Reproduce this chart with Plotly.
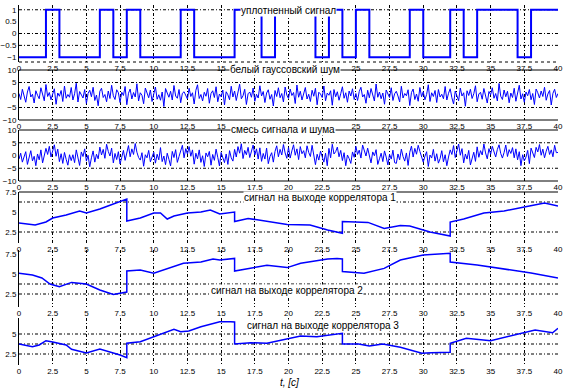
import plotly.graph_objects as go
import numpy as np

# ---------------- data ----------------
bit_times = list(range(41))
bits = [-1, -1, 1, -1, -1, -1, 1, -1, 1, -1,
        -1, -1, 1, -1, -1, -1, 1, 1, -1, 1,
        1, 1, -1, 1, -1, 1, -1, -1, -1, 1,
        -1, -1, 1, -1, 1, 1, 1, -1, 1, 1]

# white gaussian noise, 8 samples per second (one row per second)
noise = [
 0.6, -1.8, 2.3, -0.4, -2.9, 1.2, 3.4, -0.8,
 0.3, -3.2, 1.7, -0.1, -1.5, 2.9, 0.5, -2.3,
 4.2, -0.6, 1.0, -1.9, 0.4, 2.5, -3.7, 0.8,
 -0.5, 1.8, -2.6, 3.6, -1.3, 0.2, -0.9, 3.0,
 -2.0, 0.5, 4.7, -2.8, 1.4, -0.2, -1.2, 2.2,
 -3.4, 0.6, 1.9, -0.7, 3.1, -2.2, 0.0, -4.3,
 1.5, 2.7, -1.0, 0.2, -2.7, 1.6, -1.4, 3.9,
 -0.3, -1.8, 2.1, 0.9, -3.0, 1.1, -0.2, 3.4,
 -3.9, 0.7, 2.4, -1.6, 1.0, -0.8, 4.5, -2.4,
 0.9, -0.1, -3.5, 2.8, 0.3, -1.1, 2.0, -2.6,
 0.4, 3.2, -1.7, 0.1, -2.1, 1.2, -4.6, 2.6,
 0.8, -0.9, 1.5, -2.0, 3.8, -0.4, -1.3, 2.2,
 -3.1, 0.7, 1.3, -0.2, -1.6, 2.7, -0.6, 0.9,
 -3.6, 1.9, 4.1, -1.4, 0.2, -2.4, 1.1, -0.5,
 2.6, -3.3, 0.6, 1.7, -1.0, 3.3, -2.7, 0.4,
 -0.7, 2.0, -4.0, 1.3, 0.1, -1.9, 3.5, -0.8,
 1.6, -2.2, 0.9, 4.3, -1.5, -0.3, 2.3, -3.8,
 0.5, 1.2, -0.9, 2.8, -2.5, 0.3, -1.2, 3.7,
 -0.4, 1.4, -3.0, 0.8, 2.1, -1.7, 0.2, -4.4,
 1.8, -0.6, 2.9, -1.1, 0.6, -2.8, 3.2, 0.0,
 -1.4, 2.4, -0.2, 1.0, -3.4, 4.0, -0.9, 1.5,
 -2.0, 0.7, 3.0, -1.6, 0.3, -2.6, 1.9, -0.5,
 2.7, -3.9, 1.1, 0.4, -1.0, 3.6, -2.3, 0.8,
 -0.1, 1.7, -4.1, 2.2, -0.7, 1.3, -2.1, 0.5,
 3.3, -1.3, 0.9, -2.9, 1.6, -0.4, 2.5, -1.8,
 0.6, -2.2, 1.4, 3.1, -0.8, 0.2, -3.3, 1.9,
 -1.1, 2.6, -0.5, -2.4, 4.4, -0.9, 1.2, -1.5,
 0.8, -3.7, 2.0, 0.1, -1.0, 2.9, -2.2, 0.5,
 1.5, -0.4, -2.8, 3.5, -1.2, 0.6, -0.3, 2.1,
 -4.2, 1.0, 2.4, -1.8, 0.4, -2.5, 3.0, -0.7,
 1.3, -1.9, 0.2, 4.1, -2.6, 0.9, -0.6, 1.8,
 -3.0, 2.2, -0.8, 0.3, -1.5, 3.4, -2.0, 0.7,
 2.5, -1.1, -3.6, 1.6, 0.0, -2.3, 2.8, -0.4,
 0.9, -4.5, 1.7, -0.2, 2.3, -1.4, 0.5, 3.7,
 -2.7, 0.4, 1.1, -1.7, 2.6, -0.9, -3.2, 1.4,
 0.1, 2.9, -1.3, 0.6, -2.4, 4.6, -0.5, -1.8,
 2.0, -0.7, 1.5, -3.1, 0.8, -1.0, 2.7, -2.5,
 0.3, 3.9, -1.6, 0.5, -2.9, 1.2, -0.3, 2.2,
 -1.9, 0.6, -3.8, 2.4, 0.9, -1.2, 1.6, -0.6,
 3.1, -2.1, 0.4, 1.8, -4.0, 0.7, 2.3, -1.0,
 0.6]

# signal + noise mixture, same sampling
mix = [
 -1.4, 0.9, -2.6, -0.2, 1.5, -3.5, -0.8, 1.9,
 -2.1, -0.3, -4.0, 0.6, -1.7, 2.2, -2.9, -0.5,
 2.8, 0.4, 3.6, -0.6, 1.9, 4.2, -0.3, 2.5,
 -2.4, 0.7, -3.1, 1.2, -1.5, -3.8, 0.3, -2.0,
 0.3, -2.8, 2.2, -1.0, -3.9, 1.4, -0.4, 2.6,
 -2.2, 0.1, -4.4, -0.9, 1.8, -2.6, 0.5, -1.3,
 3.3, 0.2, 2.4, -1.1, 4.4, 1.6, -0.2, 2.9,
 -2.9, 0.8, -1.6, 1.5, -3.3, -0.7, 2.0, -1.9,
 1.0, 3.9, -0.5, 2.6, 0.4, 4.7, 1.3, -0.8,
 -1.8, 1.1, -4.2, 0.3, -0.9, 2.0, -2.5, -0.6,
 1.3, -3.0, 0.5, -1.7, 3.1, -2.4, -0.2, -3.6,
 0.9, -1.5, -4.1, 1.6, -0.8, 2.3, -2.7, -0.4,
 1.8, 4.0, -0.9, 2.7, 0.6, 3.5, -0.3, 2.2,
 -3.4, 0.9, -1.3, 2.2, -2.7, -0.1, -4.3, 1.0,
 -0.5, 1.6, -3.8, 0.4, -1.9, 2.5, -0.7, -4.1,
 1.2, -1.1, -2.8, 0.6, -3.5, 1.9, -0.9, -2.2,
 2.4, -0.6, 3.5, 0.9, 4.6, -1.2, 2.0, 0.3,
 3.2, -0.8, 1.7, 4.1, 0.2, 2.6, -1.4, 3.0,
 -2.3, 0.8, -1.4, 2.9, -3.2, -0.4, 1.1, -2.6,
 1.6, 3.8, -0.5, 2.4, 0.2, 4.3, 1.0, -1.1,
 3.1, -1.0, 1.8, 4.2, 0.1, 2.6, -1.6, 3.5,
 0.7, 1.9, -0.9, 3.8, 1.2, -0.4, 4.0, 0.5,
 -3.6, 0.5, -1.8, 1.7, -0.3, -2.6, 0.9, -4.0,
 2.8, -0.9, 4.4, 0.6, 1.5, 3.3, -0.5, 2.0,
 -2.0, 1.1, -4.0, 0.2, -1.2, -3.1, 1.4, -0.7,
 3.6, 0.4, 2.1, -1.0, 4.1, 1.7, -0.2, 2.9,
 -0.8, -2.9, 1.4, -0.1, 2.3, -3.5, -1.3, 0.9,
 -2.4, 1.8, -0.6, -3.7, 0.5, -1.4, 2.1, -2.8,
 -3.1, 0.6, -1.7, 2.5, -0.4, -2.2, 1.0, -3.9,
 1.3, 3.7, -0.6, 2.8, 0.5, 4.0, 1.6, -0.9,
 -2.6, -0.3, 1.5, -4.3, 0.2, -1.0, 2.4, -2.2,
 0.7, -3.0, -1.2, 1.9, -2.5, 0.3, -4.0, -0.6,
 2.2, 0.4, 3.9, -0.8, 1.6, 4.5, 0.1, 2.7,
 -2.9, 0.6, -1.4, 2.0, -3.7, -0.5, 1.3, -2.3,
 3.4, -0.7, 1.9, 0.2, 4.5, 1.0, -1.3, 2.7,
 0.5, 3.6, 1.2, -0.6, 2.4, 4.2, 0.8, -1.0,
 1.2, 4.1, -0.4, 2.3, 0.8, 3.1, -0.9, 2.6,
 -1.7, 1.5, -4.0, 0.3, -2.1, -0.6, 2.0, -3.2,
 2.9, 0.6, -0.8, 3.2, 1.4, 4.3, 0.1, 2.5,
 -0.9, 1.7, 3.6, 0.4, 2.2, -0.5, 4.0, 1.1,
 1.2]

sample_times = np.linspace(0, 40, len(noise))

corr1_t = [0, 0.8, 1.2, 2.0, 2.5, 3.5, 4.5, 5.0, 6.0, 7.0,
           8.0, 8.0, 9.0, 10.0, 10.5, 11.0, 11.5, 12.5, 13.5, 14.2,
           14.9, 16.0, 16.0, 17.0, 18.4, 19.9, 21.6, 22.9, 24.0, 24.0,
           25.9, 27.1, 28.3, 29.0, 30.5, 32.0, 32.0, 33.0, 34.5, 36.0,
           37.5, 39.0, 40.0]
corr1_v = [3.625, 3.5, 3.375, 3.75, 4.25, 4.625, 5.125, 4.875, 5.375, 6.0,
           6.625, 3.875, 4.25, 4.875, 4.875, 4.125, 4.5, 4.875, 5.0, 5.25,
           4.75, 5.0, 3.8, 4.2, 3.8, 3.45, 3.375, 2.75, 2.35, 3.8,
           3.7, 2.95, 3.3, 3.25, 2.5, 2.0, 3.75, 4.125, 4.875, 5.125,
           5.625, 6.125, 5.75]

corr2_t = [0, 1.0, 1.7, 2.3, 3.0, 3.9, 5.0, 6.0, 7.0, 8.0,
           8.0, 9.0, 10.0, 11.0, 12.2, 13.5, 14.4, 14.9, 16.0, 16.0,
           17.2, 18.4, 19.9, 20.9, 22.9, 23.6, 24.0, 24.0, 25.6, 27.1,
           28.3, 30.0, 32.0, 32.0, 34.0, 36.0, 38.0, 40.0]
corr2_v = [5.1, 4.875, 4.5, 3.75, 3.4, 3.95, 3.75, 3.0, 2.45, 2.75,
           5.375, 5.5, 5.1, 5.7, 6.35, 6.5, 6.875, 6.75, 6.95, 5.375,
           5.7, 6.1, 5.8, 6.35, 6.875, 6.95, 6.875, 5.3, 5.1, 5.7,
           6.75, 7.375, 7.6, 6.5, 6.125, 5.625, 5.125, 4.5]

corr3_t = [0, 1.0, 1.5, 2.0, 2.5, 3.5, 3.9, 5.0, 6.0, 6.8,
           7.5, 8.0, 8.0, 9.0, 10.0, 11.0, 11.5, 12.0, 12.6, 13.5,
           14.9, 15.7, 16.0, 16.0, 17.2, 18.4, 19.6, 20.9, 22.1, 24.0,
           24.0, 25.2, 26.0, 27.0, 28.3, 29.3, 29.9, 30.6, 32.0, 32.0,
           33.2, 35.0, 36.3, 37.5, 38.3, 39.6, 40.0]
corr3_v = [3.75, 3.41, 3.625, 4.16, 4.0, 3.625, 3.09, 2.625, 3.125, 2.75,
           2.375, 2.04, 3.84, 4.04, 4.66, 5.29, 5.59, 5.29, 5.375, 5.9,
           6.54, 6.54, 6.5, 3.75, 3.91, 3.84, 4.25, 4.75, 4.66, 5.09,
           3.75, 3.75, 3.5, 3.75, 3.34, 2.91, 2.59, 2.66, 2.71, 3.84,
           4.46, 4.16, 4.66, 5.16, 5.5, 5.16, 5.71]

titles = ["уплотненный сигнал", "белый гауссовский шум", "смесь сигнала и шума",
          "сигнал на выходе коррелятора 1", "сигнал на выходе коррелятора 2",
          "сигнал на выходе коррелятора 3"]
x_label = "t, [c]"

# ---------------- layout helpers ----------------
W, H = 571, 388
L, R = 19, 13
PW = W - L - R

def ydom(top, bottom):
    return [1 - bottom / H, 1 - top / H]

def px(x):
    return (x - L) / PW

def py(y):
    return 1 - y / H

panels = [
    dict(top=5, bottom=62, rng=[-1.2, 1.2], tv=[-1, -0.5, 0, 0.5, 1], grid=[1, 0, -0.5],
         topline=None, botline="dot"),
    dict(top=70, bottom=120, rng=[-10, 10], tv=[-10, -5, 0, 5, 10], grid=[-5, 5],
         topline="solid", botline="solid"),
    dict(top=130, bottom=181, rng=[-10, 10], tv=[-10, -5, 0, 5, 10], grid=[-5, 5],
         topline="solid", botline="solid"),
    dict(top=192, bottom=243, rng=[1.125, 7.5], tv=[2.5, 5, 7.5], grid=[2.5, 6.25],
         topline="solid", botline=None),
    dict(top=250, bottom=307, rng=[0.875, 8.0], tv=[2.5, 5, 7.5], grid=[2.5, 3.75],
         topline=None, botline=None),
    dict(top=318, bottom=365, rng=[1.125, 7.0], tv=[2.5, 5], grid=[2.5, 3.75, 5],
         topline=None, botline=None),
]

title_pos = [(288, 10), (285, 69), (283, 130), (320, 197), (287, 290), (323, 325)]

BLUE = "#0000ff"
GRID_DASH = "3px,2px,1px,2px"
FONT = "Liberation Sans, Arial, sans-serif"

fig = go.Figure()

series = [
    (bit_times, bits + [bits[-1]], 2, "hv"),
    (sample_times, noise, 1, "linear"),
    (sample_times, mix, 1, "linear"),
    (corr1_t, corr1_v, 1.5, "linear"),
    (corr2_t, corr2_v, 1.5, "linear"),
    (corr3_t, corr3_v, 1.5, "linear"),
]

shapes = []
annotations = []
for i, (p, (xs, ys, lw, shape)) in enumerate(zip(panels, series)):
    n = i + 1
    xa = "x" if n == 1 else f"x{n}"
    ya = "y" if n == 1 else f"y{n}"
    fig.add_trace(go.Scatter(x=xs, y=ys, mode="lines", xaxis=xa, yaxis=ya,
                             line=dict(color=BLUE, width=lw, shape=shape),
                             showlegend=False, hoverinfo="skip"))
    fig.update_layout(**{
        ("xaxis" if n == 1 else f"xaxis{n}"): dict(
            domain=[0, 1], anchor=ya, range=[0, 40], tick0=0, dtick=2.5,
            showgrid=True, gridcolor="black", gridwidth=1, griddash=GRID_DASH,
            zeroline=False, showline=False, ticks="",
            tickfont=dict(size=8, family=FONT, color="black"), automargin=False),
        ("yaxis" if n == 1 else f"yaxis{n}"): dict(
            domain=ydom(p["top"], p["bottom"]), anchor=xa, range=p["rng"],
            tickvals=p["tv"], showgrid=False, zeroline=False,
            showline=True, linecolor="black", linewidth=1, ticks="",
            tickfont=dict(size=8, family=FONT, color="black"), automargin=False),
    })
    xd = f"{xa} domain"
    yd = f"{ya} domain"
    for g in p["grid"]:
        shapes.append(dict(type="line", xref=xd, x0=0, x1=1, yref=ya, y0=g, y1=g,
                           line=dict(color="black", width=1, dash=GRID_DASH), layer="below"))
    if p["topline"]:
        shapes.append(dict(type="line", xref=xd, x0=0, x1=1, yref=yd, y0=1, y1=1,
                           line=dict(color="black", width=1, dash=p["topline"]), layer="below"))
    if p["botline"]:
        shapes.append(dict(type="line", xref=xd, x0=0, x1=1, yref=yd, y0=0, y1=0,
                           line=dict(color="black", width=1, dash=p["botline"]), layer="below"))
    cx, cy = title_pos[i]
    annotations.append(dict(text=titles[i], xref="paper", yref="paper", x=px(cx), y=py(cy),
                            xanchor="center", yanchor="middle", showarrow=False,
                            bgcolor="white", borderpad=0,
                            font=dict(size=10, family=FONT, color="black")))

annotations.append(dict(text="<i>" + x_label + "</i>", xref="paper", yref="paper",
                        x=px(289), y=py(382), xanchor="center", yanchor="middle",
                        showarrow=False, font=dict(size=10, family=FONT, color="black")))

fig.update_layout(width=W, height=H, margin=dict(l=L, r=R, t=0, b=0, pad=0),
                  paper_bgcolor="white", plot_bgcolor="white", showlegend=False,
                  template="none", shapes=shapes, annotations=annotations,
                  font=dict(family=FONT, size=8, color="black"))

fig.write_html("out.html", config={"displayModeBar": False},
               post_script="document.body.style.margin='0';document.body.style.overflow='hidden';")
